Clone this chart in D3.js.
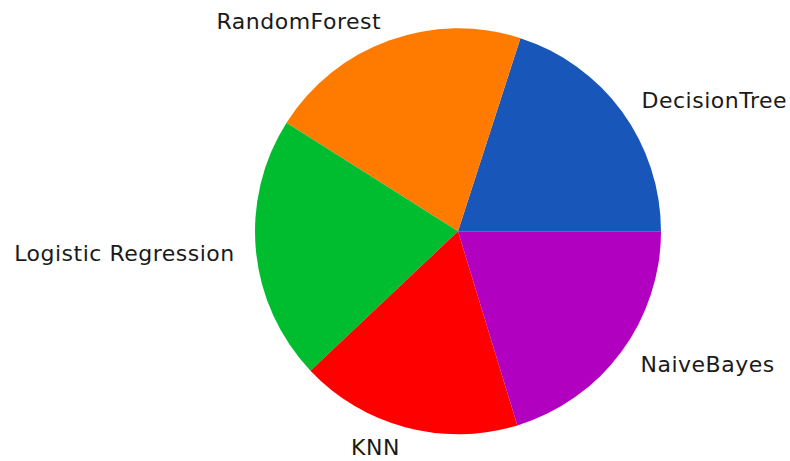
<!DOCTYPE html>
<html>
<head>
<meta charset="utf-8">
<script src="https://cdn.jsdelivr.net/npm/d3@7"></script>
<style>
  html, body { margin: 0; padding: 0; background: #fff; }
  svg { display: block; }
</style>
</head>
<body>
<svg id="chart" width="790" height="461"></svg>
<script>
// Model accuracy shares shown as a pie
const categories = ["DecisionTree", "RandomForest", "Logistic Regression", "KNN", "NaiveBayes"];
const values = [0.792, 0.830, 0.832, 0.699, 0.802];
const colors = ["#1857b9", "#ff7b00", "#00bd30", "#ff0000", "#b200c0"];

const svg = d3.select("#chart");
const cx = 458, cy = 231.3, r = 203;
const fontSize = 22;

const g = svg.append("g").attr("transform", `translate(${cx},${cy})`);

// Counter-clockwise from the 3 o'clock position
const pie = d3.pie()
  .sort(null)
  .value(d => d.value)
  .startAngle(Math.PI / 2)
  .endAngle(Math.PI / 2 - 2 * Math.PI);

const data = categories.map((c, i) => ({ name: c, value: values[i], color: colors[i] }));
const arcs = pie(data);

const arc = d3.arc().innerRadius(0).outerRadius(r);

g.selectAll("path.slice")
  .data(arcs)
  .join("path")
  .attr("class", "slice")
  .attr("d", arc)
  .attr("fill", d => d.data.color);

g.selectAll("text.label")
  .data(arcs)
  .join("text")
  .attr("class", "label")
  .each(function(d) {
    const a = (d.startAngle + d.endAngle) / 2; // d3 angle: clockwise from 12 o'clock
    const x = 1.1 * r * Math.sin(a);
    const y = -1.1 * r * Math.cos(a);
    d3.select(this)
      .attr("x", x >= 0 ? x + 3 : x - 1)
      .attr("y", y + fontSize * 0.36)
      .attr("text-anchor", x >= 0 ? "start" : "end");
  })
  .attr("font-family", "DejaVu Sans, sans-serif")
  .attr("font-size", fontSize)
  .attr("letter-spacing", 0.5)
  .attr("fill", "#1a1a1a")
  .text(d => d.data.name);
</script>
</body>
</html>
